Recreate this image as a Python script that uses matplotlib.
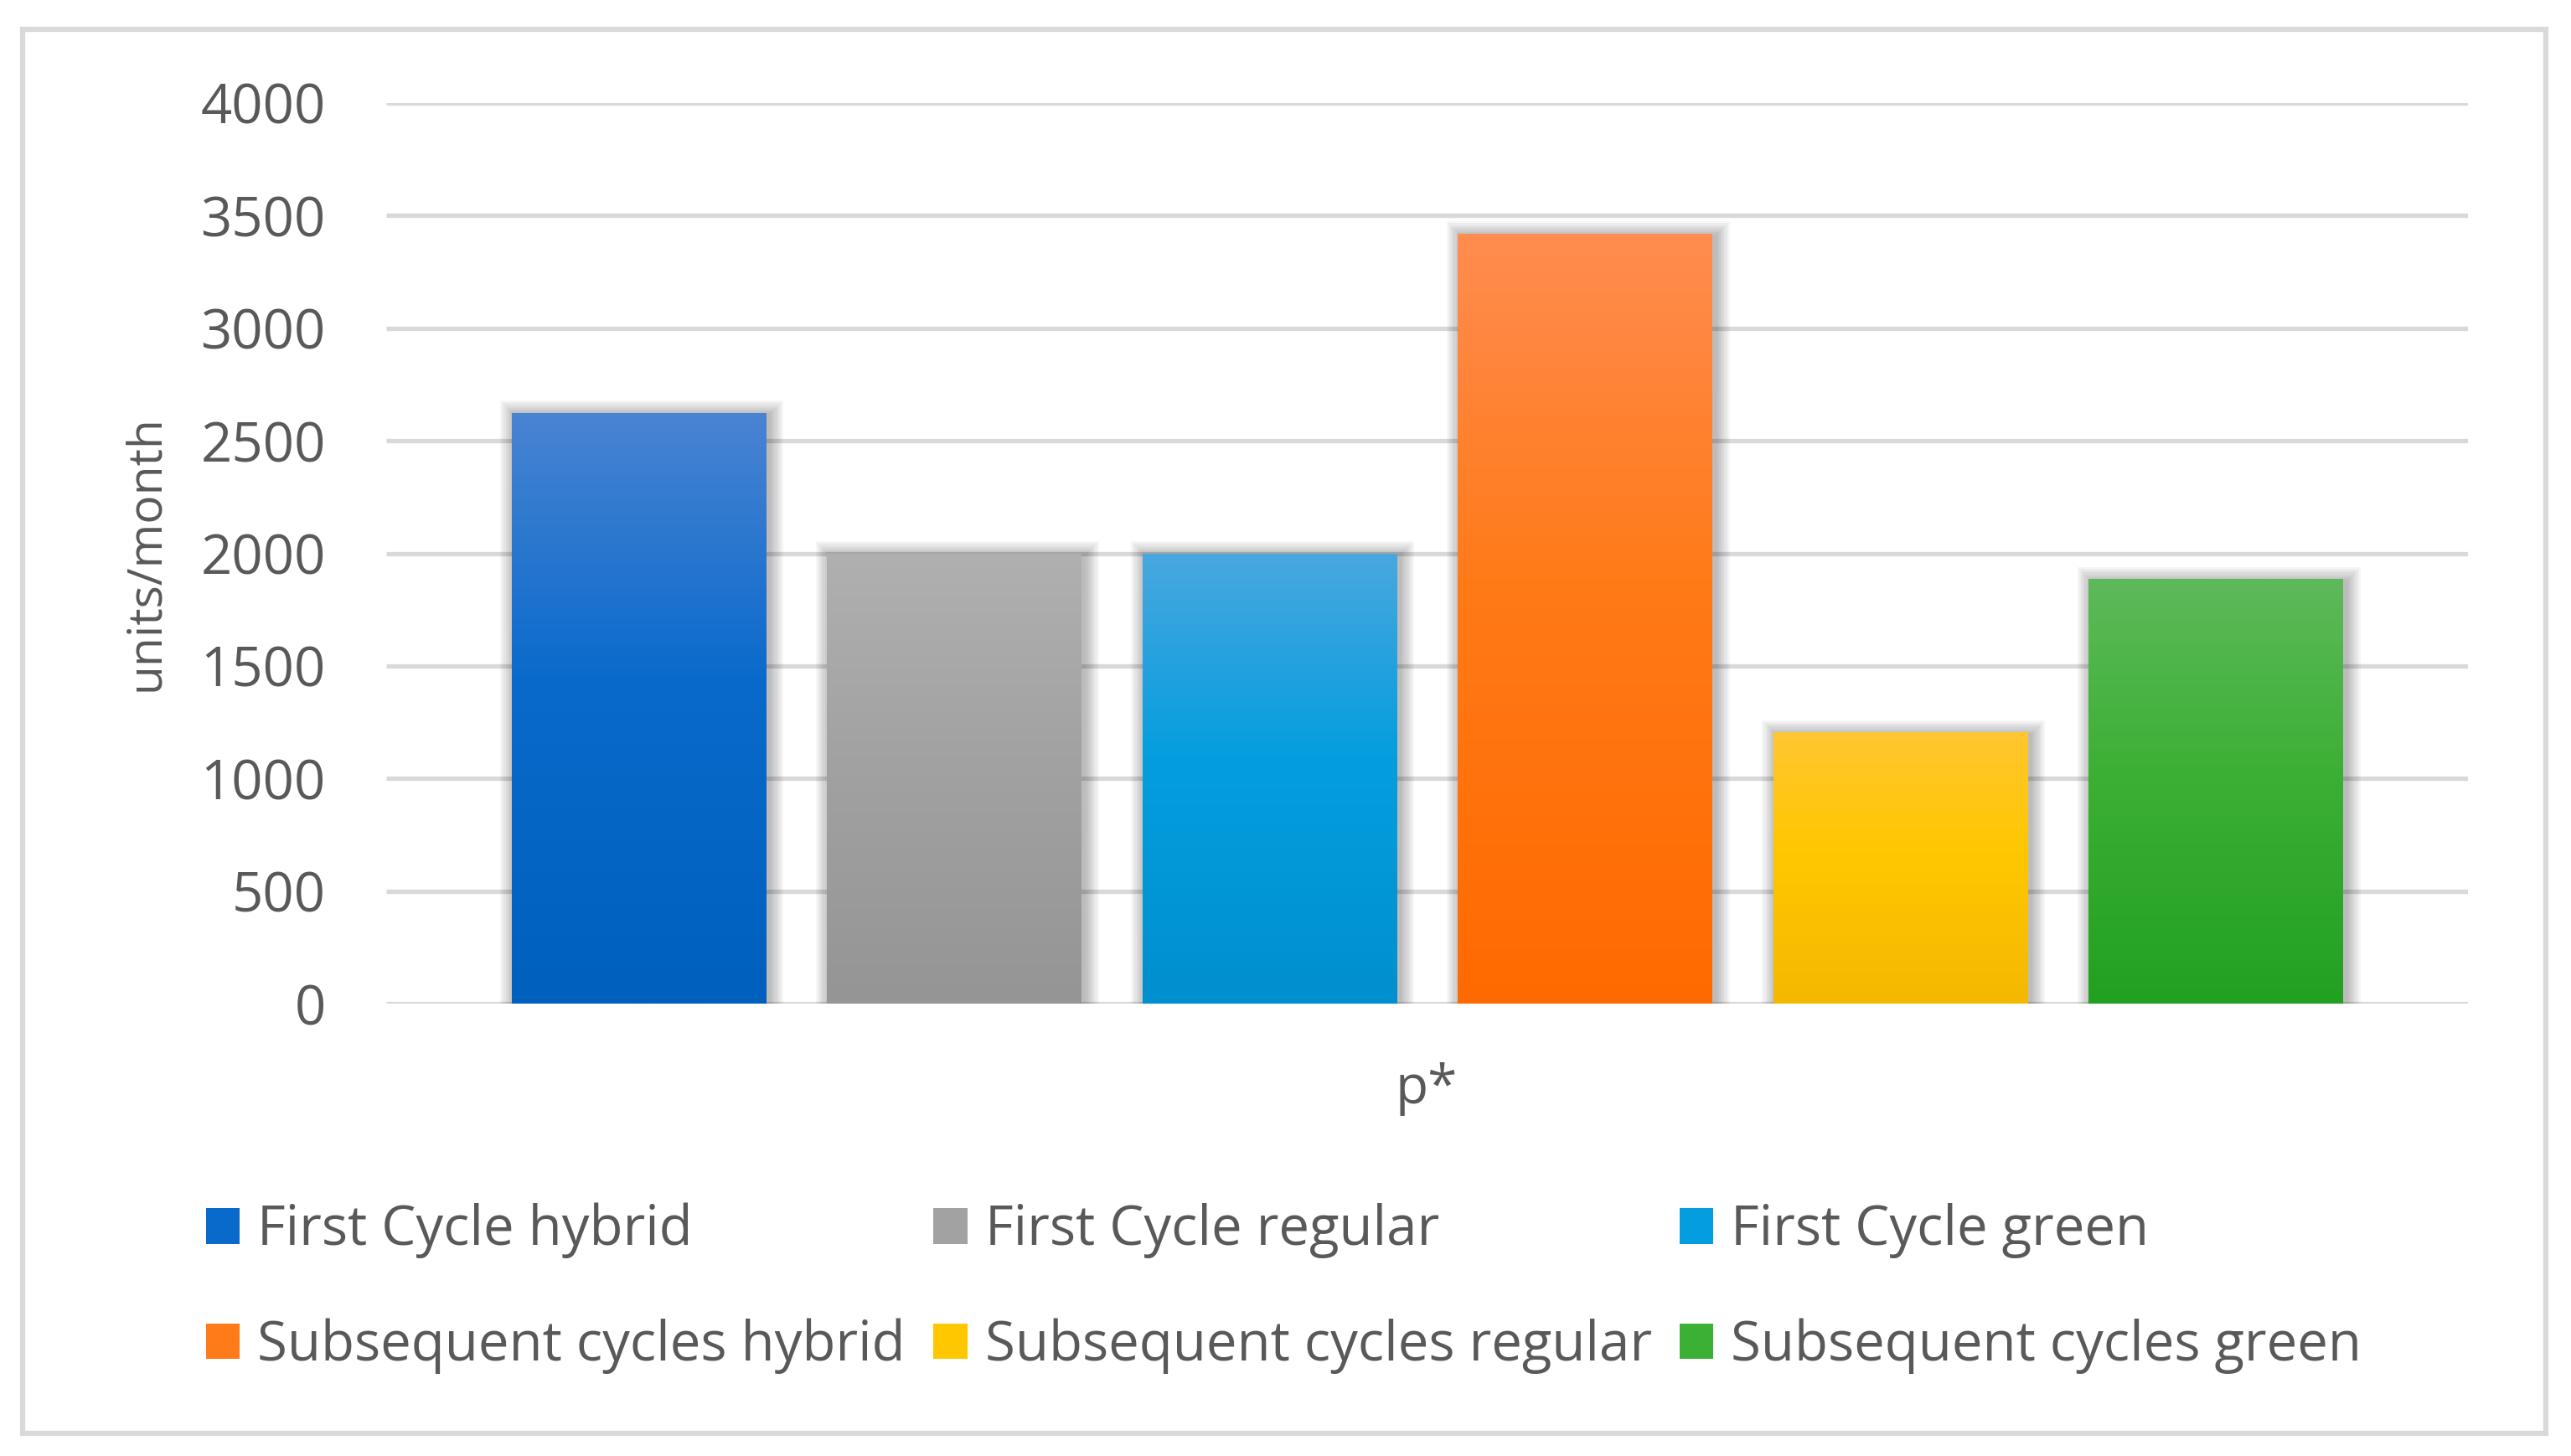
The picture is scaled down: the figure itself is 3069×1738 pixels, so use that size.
#Units per month by cycle and product type (bar chart with gradient fills)

import numpy as np
import matplotlib
matplotlib.use('Agg')
import matplotlib.pyplot as plt
from matplotlib.colors import LinearSegmentedColormap
from matplotlib.patches import Rectangle

plt.rcParams['font.family'] = ['Open Sans', 'DejaVu Sans']

#data
series = ['First Cycle hybrid', 'First Cycle regular', 'First Cycle green',
          'Subsequent cycles hybrid', 'Subsequent cycles regular', 'Subsequent cycles green']
values = [2625, 2000, 2000, 3420, 1205, 1885]
yticks = [0, 500, 1000, 1500, 2000, 2500, 3000, 3500, 4000]

#gradient colours: top, middle, bottom
grad_top = ['#4A84D2', '#B0B0B0', '#4AA7DE', '#FF8C50', '#FFC630', '#5EB95A']
grad_mid = ['#0A6ACC', '#A2A2A2', '#049EDF', '#FF7A18', '#FFC700', '#3CB035']
grad_bot = ['#0060BE', '#959595', '#008FCF', '#FF6A00', '#F5B800', '#22A022']

text_col = '#595959'
grid_col = '#D9D9D9'

W, H = 3069, 1738
fig = plt.figure(figsize=(W/100, H/100), dpi=100)
ax = fig.add_axes([461/W, 1-1198/H, (2946-461)/W, (1198-123)/H])

x = np.arange(len(values))
width = 0.805
xlim = (-0.80, 5.80)
ax.set_xlim(*xlim)
ax.set_ylim(0, 4000)

# pixel -> data conversion for the soft shadows
px_x = (xlim[1]-xlim[0]) / (2946-461)
px_y = 4000 / (1198-123)

for xi, v in zip(x, values):
    x0 = xi - width/2
    for k in range(1, 9):
        pad = k*2.2
        ax.add_patch(Rectangle((x0 - pad*px_x + 4*px_x, 0), width + 2*pad*px_x, v + pad*px_y - 3*px_y,
                               facecolor='black', edgecolor='none', alpha=0.035, zorder=2))

bars = ax.bar(x, values, width=width, color=grad_mid, zorder=3, label=series)

for b, v, c0, c1, c2 in zip(bars, values, grad_top, grad_mid, grad_bot):
    cmap = LinearSegmentedColormap.from_list('g', [(0, c2), (0.55, c1), (1, c0)])
    grad = np.linspace(0, 1, 256).reshape(-1, 1)
    im = ax.imshow(grad, cmap=cmap, origin='lower', aspect='auto', zorder=4,
                   extent=[b.get_x(), b.get_x()+b.get_width(), 0, v])
    im.set_clip_path(b)

ax.set_xlim(*xlim)
ax.set_ylim(0, 4000)

ax.set_yticks(yticks)
ax.set_yticklabels([str(t) for t in yticks])
ax.set_xticks([])
ax.yaxis.grid(True, color=grid_col, linewidth=3.8, zorder=1, solid_capstyle='butt')
ax.set_axisbelow(True)
for s in ax.spines.values():
    s.set_visible(False)
ax.tick_params(axis='y', length=0, pad=52, labelsize=47, labelcolor=text_col)

fig.text(175/W, 1-660/H, 'units/month', rotation=90, ha='center', va='center',
         fontsize=41, color=text_col)
fig.text(1703/W, 1-1300/H, 'p*', ha='center', va='center', fontsize=46, color=text_col)

#legend filled row-wise like the original
order = [0, 3, 1, 4, 2, 5]
handles = [Rectangle((0, 0), 1, 1, facecolor=grad_mid[i], edgecolor='none') for i in order]
labels = [series[i] for i in order]
fig.legend(handles, labels, ncol=3, loc='upper left', bbox_to_anchor=(246/W, 1-1436/H),
           frameon=False, fontsize=47, labelcolor=text_col, handlelength=0.62,
           handleheight=0.62, handletextpad=0.32, columnspacing=0.51, labelspacing=1.09,
           borderpad=0, borderaxespad=0)

#outer chart border
fig.patches.append(Rectangle((27/W, 1-1711/H), (3039-27)/W, (1711-35)/H,
                             transform=fig.transFigure, fill=False, edgecolor=grid_col,
                             linewidth=4.5))

fig.savefig('out.png', dpi=100)
